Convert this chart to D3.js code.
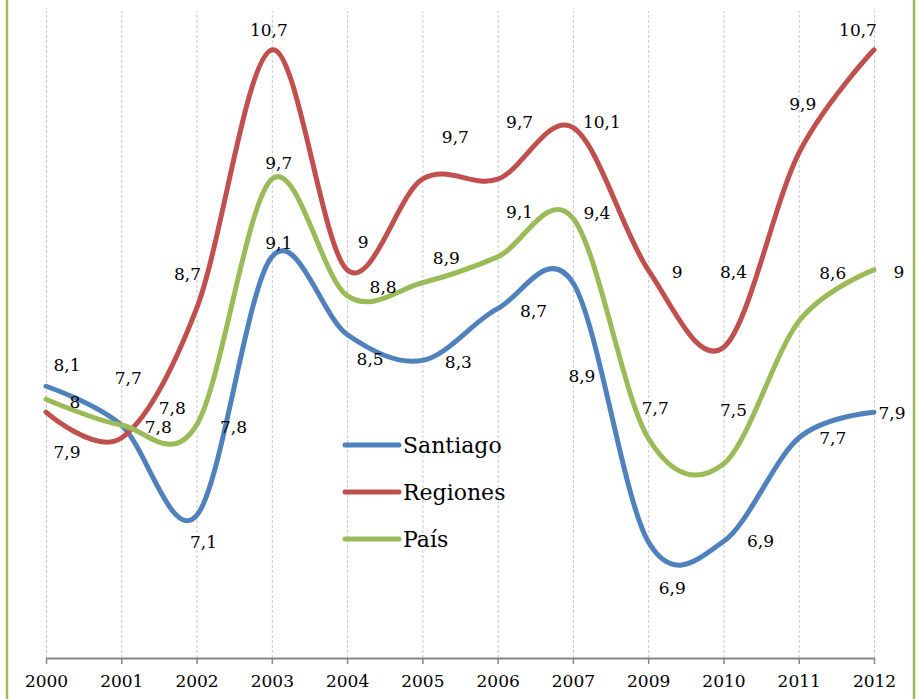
<!DOCTYPE html>
<html>
<head>
<meta charset="utf-8">
<script src="https://cdn.jsdelivr.net/npm/d3@7"></script>
<style>
  body { margin: 0; background: #fff; }
  svg { display: block; font-family: "DejaVu Serif", serif; }
</style>
</head>
<body>
<div id="chart"></div>
<script>
// categories (no 2008 in the source)
const years = ['2000', '2001', '2002', '2003', '2004', '2005', '2006', '2007', '2009', '2010', '2011', '2012'];

const santiago = [8.1, 7.8, 7.1, 9.1, 8.5, 8.3, 8.7, 8.9, 6.9, 6.9, 7.7, 7.9];
const regiones = [7.9, 7.7, 8.7, 10.7, 9.0, 9.7, 9.7, 10.1, 9.0, 8.4, 9.9, 10.7];
const pais     = [8.0, 7.8, 7.8, 9.7, 8.8, 8.9, 9.1, 9.4, 7.7, 7.5, 8.6, 9.0];

const seriesNames = ['Santiago', 'Regiones', 'País'];

// where each data label sits relative to its point (hand placed in the original)
const santiagoLabelOff = [[21,-21],[37,2],[7,26],[7,-14],[23,25],[36,2],[36,2],[9,93],[24,47],[37,0],[34,0],[18,1]];
const regionesLabelOff = [[21,40],[7,-60],[-9,-35],[-3,-20],[16,-28],[33,-42],[22,-57],[29,-5],[29,2],[10,-75],[4,-49],[-16,-20]];
const paisLabelOff     = [[29,3],[51,-17],[37,2],[7,-16],[36,-9],[24,-25],[22,-45],[24,-5],[7,-30],[10,-54],[34,-49],[25,2]];

const colors = ['#4F81BD', '#C0504D', '#9BBB59'];

var width = 920,
    height = 699;

var svg = d3.select('#chart')
  .append('svg')
    .attr('width', width)
    .attr('height', height);

var x = d3.scalePoint()
  .domain(years)
  .range([46, 874]);

var y = d3.scaleLinear()
  .domain([6, 11])
  .range([658, 11]);

// green frame on the sides
svg.append('line')
  .attr('x1', 7).attr('x2', 7).attr('y1', 0).attr('y2', height)
  .attr('stroke', '#9BBB59').attr('stroke-width', 2.5);
svg.append('line')
  .attr('x1', 914).attr('x2', 914).attr('y1', 0).attr('y2', height)
  .attr('stroke', '#9BBB59').attr('stroke-width', 2.5);

// dashed vertical gridlines
var grid = svg.append('g')
  .attr('transform', 'translate(0,' + y(6) + ')')
  .call(d3.axisBottom(x).tickSize(-(y(6) - y(11))).tickFormat(''));
grid.select('.domain').remove();
grid.selectAll('line')
  .attr('stroke', '#c8c8c8')
  .attr('stroke-dasharray', '3,2');

// x axis
var xAxis = svg.append('g')
  .attr('transform', 'translate(0,' + y(6) + ')')
  .call(d3.axisBottom(x).tickSize(6).tickSizeOuter(0).tickPadding(11));
xAxis.select('.domain').attr('stroke', '#868686').attr('stroke-width', 2);
xAxis.selectAll('.tick line').attr('stroke', '#868686').attr('stroke-width', 1.5);
xAxis.selectAll('.tick text')
  .attr('fill', '#000')
  .style('font-family', '"DejaVu Serif", serif')
  .style('font-size', '17px');

var series = [
  { name: seriesNames[0], values: santiago, off: santiagoLabelOff, color: colors[0] },
  { name: seriesNames[1], values: regiones, off: regionesLabelOff, color: colors[1] },
  { name: seriesNames[2], values: pais, off: paisLabelOff, color: colors[2] }
];

var line = d3.line()
  .x(function(d, i) { return x(years[i]); })
  .y(function(d) { return y(d); })
  .curve(d3.curveCardinal.tension(0));

svg.selectAll('.series')
  .data(series)
  .enter()
  .append('path')
    .attr('class', 'series')
    .attr('d', function(d) { return line(d.values); })
    .attr('fill', 'none')
    .attr('stroke', function(d) { return d.color; })
    .attr('stroke-width', 5)
    .attr('stroke-linejoin', 'round')
    .attr('stroke-linecap', 'round');

// data labels, comma decimals
var fmt = function(v) { return String(v).replace('.', ','); };

series.forEach(function(s) {
  svg.append('g')
    .selectAll('text')
    .data(s.values)
    .enter()
    .append('text')
      .attr('x', function(d, i) { return x(years[i]) + s.off[i][0]; })
      .attr('y', function(d, i) { return y(d) + s.off[i][1]; })
      .attr('dy', '0.35em')
      .attr('text-anchor', 'middle')
      .style('font-size', '17px')
      .attr('fill', '#000')
      .text(fmt);
});

// legend
var legend = svg.append('g')
  .attr('transform', 'translate(345,445)');

var item = legend.selectAll('g')
  .data(series)
  .enter()
  .append('g')
    .attr('transform', function(d, i) { return 'translate(0,' + i * 47 + ')'; });

item.append('line')
  .attr('x1', 0).attr('x2', 54)
  .attr('stroke', function(d) { return d.color; })
  .attr('stroke-width', 5)
  .attr('stroke-linecap', 'round');

item.append('text')
  .attr('x', 58)
  .attr('dy', '0.35em')
  .style('font-size', '22px')
  .attr('fill', '#000')
  .text(function(d) { return d.name; });
</script>
</body>
</html>
